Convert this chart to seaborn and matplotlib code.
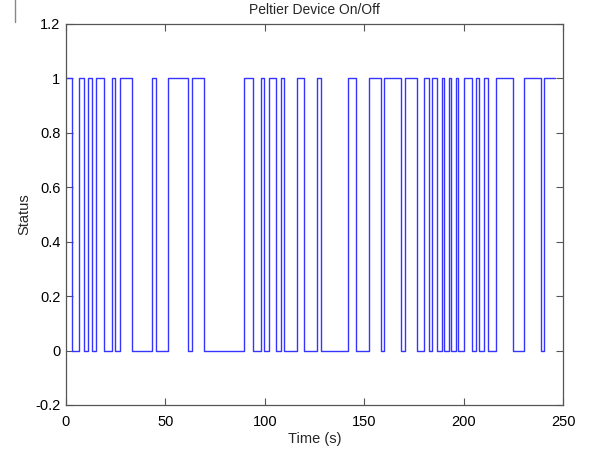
import matplotlib
matplotlib.use("Agg")
import matplotlib.pyplot as plt
import seaborn as sns
import pandas as pd
from matplotlib.ticker import FuncFormatter, FixedLocator
from matplotlib.lines import Line2D

# Switching instants (s) and the status that begins at each instant
switch_times = [0, 3.0, 6.5, 9.2, 10.9, 12.9, 14.9, 19.0, 23.0, 24.8, 27.2, 33.2,
                43.3, 45.1, 51.2, 61.5, 63.2, 69.4, 89.7, 93.9, 97.9, 99.6, 102.0,
                105.6, 108.0, 109.7, 116.0, 119.9, 126.1, 128.1, 142.0, 145.9,
                152.2, 158.3, 160.0, 168.3, 170.5, 176.4, 180.3, 182.6, 184.3,
                186.4, 189.3, 190.1, 192.7, 193.7, 196.2, 197.4, 200.4, 204.4,
                206.1, 207.9, 210.3, 212.1, 216.3, 224.7, 230.5, 238.9, 240.6, 246.0]
states = [1, 0, 1, 0, 1, 0, 1, 0, 1, 0, 1, 0,
          1, 0, 1, 0, 1, 0, 1, 0, 1, 0, 1,
          0, 1, 0, 1, 0, 1, 0, 1, 0,
          1, 0, 1, 0, 1, 0, 1, 0, 1,
          0, 1, 0, 1, 0, 1, 0, 1, 0,
          1, 0, 1, 0, 1, 0, 1, 0, 1, 1]

x_ticks = [0, 50, 100, 150, 200, 250]
y_ticks = [-0.2, 0, 0.2, 0.4, 0.6, 0.8, 1.0, 1.2]

title = "Peltier Device On/Off"
x_label = "Time (s)"
y_label = "Status"

sns.set_theme(style="white")
plt.rcParams['font.family'] = ['Liberation Sans', 'DejaVu Sans']

df = pd.DataFrame({"time": switch_times, "status": states})

fig = plt.figure(figsize=(5.89, 4.5), dpi=100)
ax = fig.add_axes([66 / 589, 45 / 450, (563 - 66) / 589, (405 - 24) / 450])

sns.lineplot(data=df, x="time", y="status", ax=ax, drawstyle="steps-post",
             color="#3535ff", linewidth=1.0, sort=False, estimator=None)

ax.set_xlim(0, 250)
ax.set_ylim(-0.2, 1.2)
ax.xaxis.set_major_locator(FixedLocator(x_ticks))
ax.yaxis.set_major_locator(FixedLocator(y_ticks))
ax.yaxis.set_major_formatter(FuncFormatter(lambda v, p: "0" if abs(v) < 1e-9 else ("%g" % round(v, 1))))
ax.xaxis.set_major_formatter(FuncFormatter(lambda v, p: "%d" % v))

for s in ax.spines.values():
    s.set_visible(True)
    s.set_color("#555555")
    s.set_linewidth(0.9)

ax.tick_params(axis="both", which="both", direction="in", length=5, width=0.8,
               colors="#555555", labelcolor="black", labelsize=10.5,
               top=True, right=True, bottom=True, left=True, pad=4)
ax.tick_params(axis="x", pad=7)

ax.set_title(title, fontsize=10, pad=7)
ax.set_xlabel(x_label, fontsize=10.5, labelpad=2)
ax.set_ylabel(y_label, fontsize=10.5, labelpad=3)

# thin vertical mark at the upper-left corner of the scanned page
fig.add_artist(Line2D([15 / 589, 15 / 589], [1.0, 1 - 22 / 450],
                      transform=fig.transFigure, color="#888888", linewidth=1.0))

fig.savefig("out.png", dpi=100, facecolor="white")
